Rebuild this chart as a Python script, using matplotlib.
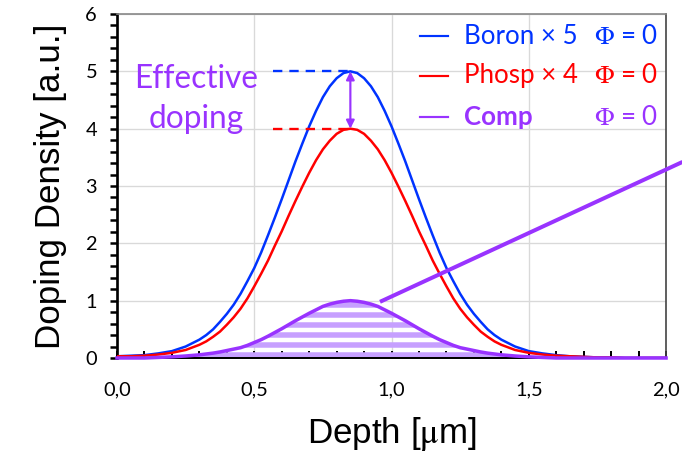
import matplotlib
matplotlib.use('Agg')
import matplotlib.pyplot as plt
from matplotlib.ticker import MultipleLocator, FixedLocator, FixedFormatter

# depth grid [um] and profiles
depth = [0.00, 0.05, 0.10, 0.15, 0.20, 0.25, 0.30,
         0.325, 0.35, 0.375, 0.40, 0.425, 0.45, 0.475, 0.50, 0.525, 0.55,
         0.575, 0.60, 0.625, 0.65, 0.675, 0.70, 0.725, 0.75, 0.775, 0.80,
         0.825, 0.85, 0.875, 0.90, 0.925, 0.95, 0.975, 1.00, 1.025, 1.05,
         1.075, 1.10, 1.125, 1.15, 1.175, 1.20, 1.225, 1.25, 1.275, 1.30,
         1.325, 1.35, 1.375, 1.40,
         1.45, 1.50, 1.55, 1.60, 1.65, 1.70, 1.75, 1.80, 1.85, 1.90, 1.95, 2.00]

boron = [0.03, 0.04, 0.05, 0.08, 0.12, 0.20, 0.32,
         0.40, 0.50, 0.63, 0.77, 0.93, 1.12, 1.34, 1.57, 1.84, 2.14,
         2.45, 2.77, 3.10, 3.43, 3.74, 4.04, 4.31, 4.55, 4.74, 4.88,
         4.97, 5.00, 4.97, 4.88, 4.74, 4.55, 4.31, 4.04, 3.74, 3.43,
         3.10, 2.77, 2.45, 2.14, 1.84, 1.57, 1.34, 1.12, 0.93, 0.77,
         0.63, 0.50, 0.40, 0.32,
         0.20, 0.12, 0.08, 0.05, 0.03, 0.02, 0.01, 0.01, 0.00, 0.00, 0.00, 0.00]

phosp = [0.03, 0.03, 0.04, 0.06, 0.09, 0.14, 0.23,
         0.29, 0.37, 0.46, 0.58, 0.71, 0.86, 1.04, 1.25, 1.47, 1.70,
         1.96, 2.21, 2.48, 2.74, 2.99, 3.23, 3.45, 3.64, 3.79, 3.91,
         3.98, 4.00, 3.98, 3.91, 3.79, 3.64, 3.45, 3.23, 2.99, 2.74,
         2.48, 2.21, 1.96, 1.70, 1.47, 1.25, 1.04, 0.86, 0.71, 0.58,
         0.46, 0.37, 0.29, 0.23,
         0.14, 0.09, 0.06, 0.04, 0.03, 0.02, 0.01, 0.01, 0.00, 0.00, 0.00, 0.00]

comp = [0.00, 0.00, 0.00, 0.01, 0.02, 0.035, 0.055,
        0.07, 0.085, 0.105, 0.13, 0.155, 0.18, 0.22, 0.27, 0.32, 0.38,
        0.445, 0.51, 0.58, 0.65, 0.715, 0.78, 0.84, 0.90, 0.94, 0.97,
        0.99, 1.00, 0.99, 0.97, 0.94, 0.90, 0.84, 0.78, 0.715, 0.65,
        0.58, 0.51, 0.445, 0.38, 0.32, 0.27, 0.22, 0.18, 0.155, 0.13,
        0.105, 0.085, 0.07, 0.055,
        0.035, 0.02, 0.01, 0.00, 0.00, 0.00, 0.00, 0.00, 0.00, 0.00, 0.00, 0.00]

# annotations
peak_depth = 0.85
boron_peak = 5
phosp_peak = 4
guide_start = 0.57
pointer_x = [0.958, 2.06]
pointer_y = [0.98, 3.42]

xtick_vals = [0.0, 0.5, 1.0, 1.5, 2.0]
xtick_labels = ['0,0', '0,5', '1,0', '1,5', '2,0']
ytick_vals = [0, 1, 2, 3, 4, 5, 6]

legend_names = ['Boron \u00d7 5', 'Phosp \u00d7 4', 'Comp']
phi_text = r'$\Phi$ = 0'

blue = '#0033FF'
red = '#FF0000'
purple = '#9933FF'
light_purple = '#C6A0FF'

plt.rcParams['font.family'] = ['Lato', 'DejaVu Sans']
plt.rcParams['mathtext.fontset'] = 'stix'
plt.rcParams['hatch.linewidth'] = 3.3

fig = plt.figure(figsize=(682/120, 455/120), dpi=120)
ax = fig.add_axes([0.1716, 0.2132, 0.8050, 0.7560])

ax.fill_between(depth, comp, 0, facecolor='none', edgecolor=light_purple,
                hatch='--', linewidth=0, zorder=1)
ax.plot(depth, boron, color=blue, lw=1.5, zorder=3)
ax.plot(depth, phosp, color=red, lw=1.5, zorder=4)
ax.plot(depth, comp, color=purple, lw=2.1, zorder=5, clip_on=False)

# guides to the peaks and the arrow between them
ax.plot([guide_start, peak_depth], [boron_peak, boron_peak], color=blue,
        lw=1.4, dashes=(4, 3), zorder=3)
ax.plot([guide_start, peak_depth], [phosp_peak, phosp_peak], color=red,
        lw=1.4, dashes=(4, 3), zorder=3)
ax.annotate('', xy=(peak_depth, phosp_peak), xytext=(peak_depth, boron_peak),
            arrowprops=dict(arrowstyle='<|-|>', color=purple, lw=1.3,
                            mutation_scale=10, shrinkA=0, shrinkB=0), zorder=6)
ax.text(0.288, 4.52, 'Effective\ndoping', color=purple, fontsize=19,
        ha='center', va='center', linespacing=1.4)

ax.plot(pointer_x, pointer_y, color=purple, lw=2.4, clip_on=False, zorder=5,
        solid_capstyle='butt')

ax.set_xlim(0, 2.0)
ax.set_ylim(0, 6)
ax.xaxis.set_major_locator(FixedLocator(xtick_vals))
ax.xaxis.set_major_formatter(FixedFormatter(xtick_labels))
ax.xaxis.set_minor_locator(MultipleLocator(0.1))
ax.yaxis.set_major_locator(FixedLocator(ytick_vals))
ax.yaxis.set_minor_locator(MultipleLocator(0.2))

ax.tick_params(axis='x', which='both', direction='in', length=4, width=1.2,
               labelsize=12, pad=14, colors='black')
ax.tick_params(axis='y', which='both', direction='out', length=4, width=1.5,
               labelsize=12, pad=8)
ax.grid(True, which='major', color='#D9D9D9', lw=0.8)
ax.set_axisbelow(True)

ax.spines['left'].set_linewidth(1.6)
ax.spines['bottom'].set_linewidth(1.2)
ax.spines['top'].set_color('#888888')
ax.spines['right'].set_color('#444444')
ax.spines['top'].set_linewidth(1.0)
ax.spines['right'].set_linewidth(1.0)

ax.set_xlabel(r'Depth [$\mathrm{\mu}$m]', fontsize=21, family='Liberation Sans',
              labelpad=10)
ax.set_ylabel('Doping Density [a.u.]', fontsize=21, family='Liberation Sans',
              labelpad=11)

# legend block, top right
rows = [0.936, 0.820, 0.700]
for name, c, y in zip(legend_names, [blue, red, purple], rows):
    ax.plot([0.552, 0.603], [y, y], color=c, lw=1.3, transform=ax.transAxes)
    ax.text(0.632, y, name, color=c, fontsize=15.5, ha='left', va='center',
            transform=ax.transAxes,
            fontweight='bold' if name == 'Comp' else 'normal')
    ax.text(0.985, y, phi_text, color=c, fontsize=15.5, ha='right',
            va='center', transform=ax.transAxes)

fig.savefig('out.png', dpi=120)
